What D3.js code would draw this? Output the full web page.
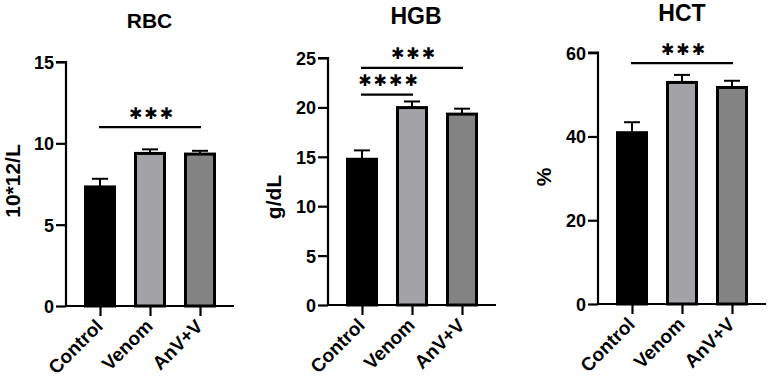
<!DOCTYPE html>
<html>
<head>
<meta charset="utf-8">
<script src="https://cdn.jsdelivr.net/npm/d3@7"></script>
<style>
  html, body { margin: 0; padding: 0; background: #fff; }
  text { font-family: "Liberation Sans", Arial, sans-serif; font-weight: bold; fill: #000; }
</style>
</head>
<body>
<svg id="chart" width="771" height="382"></svg>
<script>
// ---- data ----
const categories = ["Control", "Venom", "AnV+V"];
const barColors = ["#000000", "#a2a2a7", "#838383"];

const rbcMeans = [7.32, 9.38, 9.34];
const rbcErrors = [0.5, 0.25, 0.2];
const rbcTicks = [0, 5, 10, 15];

const hgbMeans = [14.75, 19.98, 19.32];
const hgbErrors = [0.9, 0.62, 0.55];
const hgbTicks = [0, 5, 10, 15, 20, 25];

const hctMeans = [40.9, 52.9, 51.7];
const hctErrors = [2.5, 1.8, 1.6];
const hctTicks = [0, 20, 40, 60];

// significance brackets: [fromIndex, toIndex, value level, label]
const rbcSig = [[0, 2, 11.0, "✱✱✱"]];
const hgbSig = [[0, 1, 21.3, "✱✱✱✱"], [0, 2, 24.0, "✱✱✱"]];
const hctSig = [[0, 2, 57.5, "✱✱✱"]];

const panels = [
  { title: "RBC", ylabel: "10*12/L", means: rbcMeans, errors: rbcErrors, ticks: rbcTicks, sig: rbcSig,
    left: 66, bottom: 306, top: 62, titleX: 149.5, titleY: 28, titleSize: 21, ylabX: 20, ylabY: 181 },
  { title: "HGB", ylabel: "g/dL", means: hgbMeans, errors: hgbErrors, ticks: hgbTicks, sig: hgbSig,
    left: 328, bottom: 305, top: 58, titleX: 416, titleY: 24, titleSize: 23, ylabX: 281, ylabY: 197 },
  { title: "HCT", ylabel: "%", means: hctMeans, errors: hctErrors, ticks: hctTicks, sig: hctSig,
    left: 598, bottom: 304, top: 52.7, titleX: 682, titleY: 20.5, titleSize: 23, ylabX: 551, ylabY: 177 }
];

const svg = d3.select("#chart");
const plotW = 168;
const barW = 29;
const FONT = '"Liberation Sans", Arial, sans-serif';

panels.forEach(p => {
  const g = svg.append("g").attr("transform", `translate(${p.left},0)`);
  const y = d3.scaleLinear().domain([0, d3.max(p.ticks)]).range([p.bottom, p.top]);
  const x = d3.scalePoint().domain(categories).range([34, 134]);

  // title
  g.append("text").attr("x", p.titleX - p.left).attr("y", p.titleY)
    .attr("text-anchor", "middle").style("font-size", p.titleSize + "px").text(p.title);

  // y label
  g.append("text")
    .attr("transform", `translate(${p.ylabX - p.left},${p.ylabY}) rotate(-90)`)
    .attr("text-anchor", "middle").style("font-size", "21px").text(p.ylabel);

  const data = categories.map((c, i) => ({ c, v: p.means[i], e: p.errors[i], color: barColors[i] }));

  // error bars (upper only)
  data.forEach(d => {
    const cx = x(d.c);
    g.append("line").attr("x1", cx).attr("x2", cx).attr("y1", y(d.v)).attr("y2", y(d.v + d.e))
      .attr("stroke", "#000").attr("stroke-width", 2);
    g.append("line").attr("x1", cx - 8).attr("x2", cx + 8).attr("y1", y(d.v + d.e)).attr("y2", y(d.v + d.e))
      .attr("stroke", "#000").attr("stroke-width", 2);
  });

  // bars
  g.selectAll("rect.bar").data(data).enter().append("rect")
    .attr("class", "bar")
    .attr("x", d => x(d.c) - barW / 2)
    .attr("width", barW)
    .attr("y", d => y(d.v))
    .attr("height", d => y(0) - y(d.v))
    .attr("fill", d => d.color)
    .attr("stroke", "#000").attr("stroke-width", 3);

  // y axis
  const yAxis = d3.axisLeft(y).tickValues(p.ticks).tickSize(10).tickPadding(2).tickFormat(d3.format("d"));
  const ya = g.append("g").call(yAxis);
  ya.select(".domain").attr("stroke-width", 2.2).attr("d", `M-10,${y(d3.max(p.ticks))}H0V${p.bottom}`);
  ya.selectAll(".tick line").attr("stroke-width", 2.2);
  ya.selectAll(".tick text").attr("dy", "0.36em")
    .style("font-size", "18px").style("font-family", FONT).style("font-weight", "bold");

  // x axis
  const xa = g.append("g").attr("transform", `translate(0,${p.bottom})`)
    .call(d3.axisBottom(x).tickSize(10).tickFormat(""));
  xa.select(".domain").attr("stroke-width", 2.2).attr("d", `M0,0H${plotW}`);
  xa.selectAll(".tick line").attr("stroke-width", 2.2);
  xa.selectAll(".tick").append("text")
    .attr("transform", "translate(-6,12) rotate(-45)")
    .attr("text-anchor", "end")
    .attr("dy", "0.7em")
    .style("font-size", "19px").style("font-family", FONT).style("font-weight", "bold")
    .text(d => d);

  // significance lines
  p.sig.forEach(s => {
    const x1 = x(categories[s[0]]) - 1, x2 = x(categories[s[1]]) + 1;
    const yy = y(s[2]);
    g.append("line").attr("x1", x1).attr("x2", x2).attr("y1", yy).attr("y2", yy)
      .attr("stroke", "#000").attr("stroke-width", 2.2);
  });
  // significance stars
  p.sig.forEach(s => {
    const x1 = x(categories[s[0]]), x2 = x(categories[s[1]]);
    const yy = y(s[2]);
    g.append("text").attr("x", (x1 + x2) / 2 + 2).attr("y", yy - 14)
      .attr("dominant-baseline", "central")
      .attr("text-anchor", "middle")
      .style("font-family", '"DejaVu Sans", sans-serif')
      .style("font-weight", "normal")
      .style("font-size", "16px").style("letter-spacing", "2px")
      .text(s[3]);
  });
});
</script>
</body>
</html>
